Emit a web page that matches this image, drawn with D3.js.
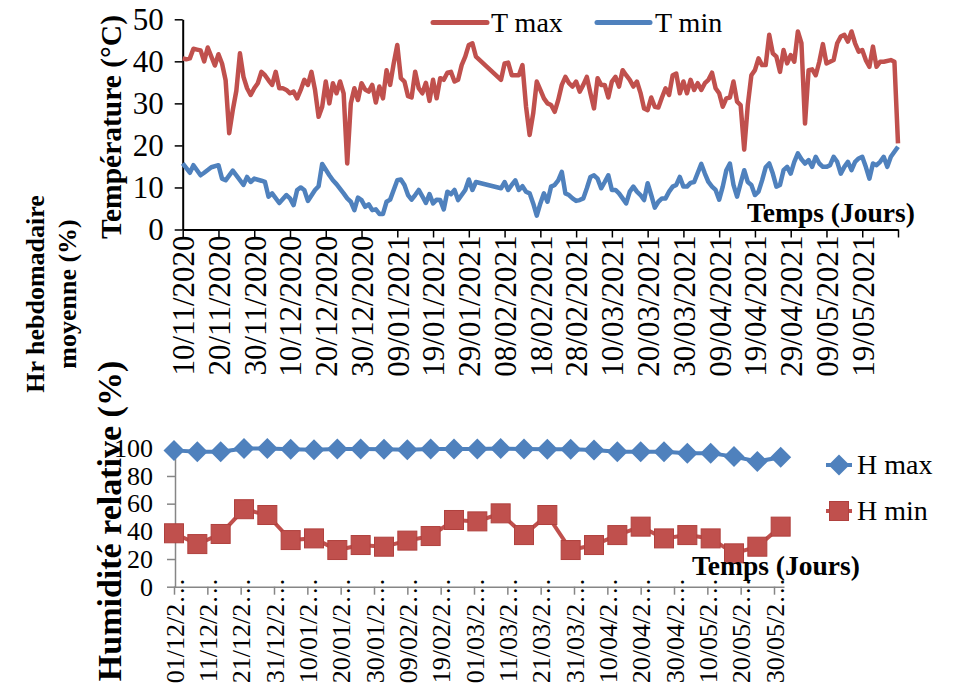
<!DOCTYPE html>
<html>
<head>
<meta charset="utf-8">
<script src="https://cdn.jsdelivr.net/npm/d3@7"></script>
<style>
  body { margin: 0; background: #fff; }
  svg text { font-family: "Liberation Serif", "Times New Roman", serif; }
</style>
</head>
<body>
<div id="chart"></div>
<script>
// top panel: daily temperatures, [days since 10/11/2020, value]
const tempStart = new Date(2020, 10, 10);
const tempEnd = new Date(2021, 4, 29);
const tmax = [[0,40.7],[1,40.5],[2,40.7],[3,43],[4,42.8],[5,42.6],[6,40],[7,43.3],[9,39],[10,41.7],[11,39.5],[12,35.5],[13,22.9],[14,28.4],[15,33],[16,41.9],[17,36.3],[18,33.6],[19,32],[20,33.6],[21,34.8],[22,37.5],[23,36.7],[24,35.5],[25,34.4],[26,37.5],[27,33.6],[28,33.6],[29,33.2],[30,32.4],[31,32.8],[32,31.2],[33,33.2],[34,35.6],[35,34.4],[36,37.5],[37,33.2],[38,26.8],[39,29.2],[40,35.2],[41,30],[42,34.8],[43,32.4],[44,35.2],[45,32.4],[46,15.7],[47,30],[48,33.6],[49,30.8],[50,34.8],[51,33.3],[52,32.8],[53,34.4],[54,30.2],[55,34],[56,31.2],[57,37.9],[58,34.4],[59,39.5],[60,43.9],[61,36],[62,35.2],[63,31.7],[64,31.4],[65,37.5],[66,33.6],[67,32.4],[68,34.9],[69,30.6],[70,35.6],[71,31.2],[72,36],[73,35.6],[74,37.3],[75,37.5],[76,35.2],[77,35.6],[78,39.1],[79,41.1],[80,43.9],[81,44.3],[82,41.1],[89,35.6],[90,39.5],[91,39.7],[92,36.7],[93,36.7],[94,36.7],[95,39.1],[96,29.2],[97,22.5],[98,27.6],[99,35.2],[100,33.2],[101,31.2],[102,30],[103,29.6],[104,28],[105,30.8],[106,34.4],[107,36.3],[108,34.8],[109,34],[110,35.2],[111,32.8],[112,34.4],[113,36.3],[114,32.4],[115,28.8],[116,36],[117,34.4],[118,34.4],[119,31.4],[120,35.2],[121,36.3],[122,34],[123,37.9],[124,36.7],[125,35.6],[126,34],[127,35.2],[128,32.5],[129,28.8],[130,28.4],[131,31.4],[132,29.2],[133,29],[134,31.4],[135,33.6],[136,32],[137,36.7],[138,37.1],[139,32.4],[140,35.2],[141,32.4],[142,35.6],[143,33.2],[144,34.8],[145,33.2],[146,34.8],[147,35.6],[148,37.3],[149,33.6],[150,32.4],[151,29.2],[152,31.2],[153,31.4],[154,35.2],[155,30.4],[156,29.6],[157,19],[158,29.6],[159,36.7],[160,37.9],[161,40.7],[162,39.1],[163,39.1],[164,46.3],[165,41.9],[166,41.1],[167,37.5],[168,42.7],[169,39.5],[170,41.5],[171,39.9],[172,47.1],[173,44.3],[174,25.2],[175,37.9],[176,38.1],[177,36.7],[178,39.9],[179,44.1],[180,39.5],[181,39.9],[182,40.3],[183,44.3],[184,45.9],[185,46.3],[186,44.7],[187,47.1],[188,44.3],[189,42.3],[190,42.7],[191,40.3],[192,38.7],[193,43.5],[194,38.7],[195,39.9],[196,39.9],[198,40.3],[199,39.9],[200,20.5]];
const tmin = [[0,15.7],[2,13.5],[3,15.3],[5,12.9],[6,13.5],[8,14.8],[10,15.3],[11,12.1],[12,11.7],[14,14],[15,12.9],[17,10.6],[18,12.5],[19,11.3],[20,12.1],[22,11.6],[23,11.3],[24,7.8],[25,8.6],[27,6.3],[29,8.2],[30,7.4],[31,5.8],[32,9.4],[33,10],[34,9.4],[35,6.8],[37,9.4],[38,10.3],[39,15.6],[41,12.9],[42,11.7],[43,10.8],[45,8.6],[46,7.4],[47,6.6],[48,4.6],[49,7.6],[50,7],[51,5.4],[52,6],[53,4.6],[54,4.8],[55,3.7],[56,3.7],[57,6.6],[58,7.1],[60,11.7],[61,11.9],[62,10.6],[63,8.2],[64,7.1],[65,8.2],[66,9.4],[67,7.9],[68,6.3],[69,8.4],[70,6.2],[71,7.1],[72,7],[73,4.8],[74,9],[75,8.4],[76,9.4],[77,7],[78,8.2],[79,9.4],[80,11.9],[81,9.4],[82,11.3],[89,9.8],[90,11.3],[91,9.4],[92,10.6],[93,11.7],[94,9.4],[95,10.3],[96,9],[97,8.6],[98,6.2],[99,3.3],[100,6.2],[101,8.6],[102,6.6],[103,10.2],[104,10.6],[105,11.7],[106,13.7],[107,8.6],[108,8.2],[109,7.4],[110,6.8],[111,7],[112,7.4],[113,9.8],[114,12.5],[115,12.9],[116,12.1],[117,9.8],[118,11.3],[119,12.9],[120,9.4],[121,9.4],[122,8.6],[123,7.4],[124,6.2],[125,9],[126,10.2],[127,9],[128,8.2],[129,7],[130,11],[131,8.2],[132,5.2],[133,6.6],[134,7.4],[135,7.4],[136,9],[137,10.2],[138,10.6],[139,12.5],[140,10.2],[141,10.2],[142,11.1],[143,11.3],[145,15.6],[146,13.3],[147,11.3],[148,10.2],[149,9.4],[150,7.1],[151,10.2],[152,14.1],[153,15.7],[154,10.6],[155,7.8],[156,11],[157,14.1],[158,11.3],[159,10.6],[160,8.2],[161,9],[162,11.7],[163,14.8],[164,15.7],[165,13.3],[166,10.2],[167,10.6],[168,14.1],[169,14.9],[170,13.3],[171,16.1],[172,18.1],[173,16.7],[174,15.7],[175,16.5],[176,14.9],[177,17.3],[178,15.7],[179,14.9],[180,14.9],[181,15.3],[182,17.3],[183,16.1],[184,13.3],[185,14.9],[186,16.1],[187,14.1],[188,16.1],[189,16.9],[190,17.3],[191,14.9],[192,12.1],[193,15.7],[194,15.3],[195,16.1],[196,17.3],[197,14.9],[198,17.3],[199,18.5],[200,19.7]];
const tempTicks = [0, 10, 20, 30, 40, 50];

// bottom panel: weekly relative humidity
const humDates = ["2020-12-01","2020-12-08","2020-12-15","2020-12-22","2020-12-29","2021-01-05","2021-01-12","2021-01-19","2021-01-26","2021-02-02","2021-02-09","2021-02-16","2021-02-23","2021-03-02","2021-03-09","2021-03-16","2021-03-23","2021-03-30","2021-04-06","2021-04-13","2021-04-20","2021-04-27","2021-05-04","2021-05-11","2021-05-18","2021-05-25","2021-06-01"];
const hmax = [98.5,97.5,97.5,99.8,99.8,99.3,99,99.5,99.5,99.3,99,99.5,99.5,99.5,99.8,99.5,99.3,99.3,98.8,97.5,97.5,97.5,96.5,96.5,94,90.5,93.5];
const hmin = [38.6,30.8,38.1,56,51.8,33.7,34.9,26.5,30.1,28.9,33.3,36.6,48.2,47.2,53,37.3,51.8,26.5,30.1,37.3,43.4,34.9,37.3,34.9,24.1,28.9,43.4];
const humTicks = [0, 20, 40, 60, 80, 100];

const RED = '#C0504D', BLUE = '#4F81BD';
const svg = d3.select('#chart').append('svg').attr('width', 961).attr('height', 686);

// ---------- top chart ----------
const x1 = d3.scaleTime().domain([tempStart, tempEnd]).range([182.7, 898]);
const y1 = d3.scaleLinear().domain([0, 50]).range([229.5, 19.3]);
const dayDate = d => d3.timeDay.offset(tempStart, d);

const topG = svg.append('g');
const xTicks1 = d3.range(0, 201, 10).map(dayDate);
const fmt1 = d3.timeFormat('%d/%m/%Y');

const xAxis1 = topG.append('g').attr('transform', 'translate(0,229.5)')
  .call(d3.axisBottom(x1).tickValues(xTicks1).tickSize(8).tickSizeOuter(0)
    .tickFormat((d, i) => i < 20 ? fmt1(d) : ''));
xAxis1.select('.domain').attr('stroke', '#000').attr('stroke-width', 2);
xAxis1.selectAll('.tick line').attr('stroke', '#000').attr('stroke-width', 1.5);
xAxis1.selectAll('.tick text')
  .attr('transform', 'rotate(-90)')
  .attr('text-anchor', 'end')
  .attr('x', -6).attr('y', 0).attr('dy', '0.35em')
  .style('font-size', '31px').attr('fill', '#000');

const yAxis1 = topG.append('g').attr('transform', 'translate(182.7,0)')
  .call(d3.axisLeft(y1).tickValues(tempTicks).tickSize(8).tickSizeOuter(0).tickPadding(11));
yAxis1.select('.domain').attr('stroke', '#000').attr('stroke-width', 2);
yAxis1.selectAll('.tick line').attr('stroke', '#000').attr('stroke-width', 1.5);
yAxis1.selectAll('.tick text').style('font-size', '31px').attr('fill', '#000');

const line1 = d3.line().x(d => x1(dayDate(d[0]))).y(d => y1(d[1]));
topG.append('path').datum(tmax).attr('d', line1)
  .attr('fill', 'none').attr('stroke', RED).attr('stroke-width', 4.5).attr('stroke-linejoin', 'round');
topG.append('path').datum(tmin).attr('d', line1)
  .attr('fill', 'none').attr('stroke', BLUE).attr('stroke-width', 4.5).attr('stroke-linejoin', 'round');

// legend
topG.append('line').attr('x1', 433).attr('x2', 487).attr('y1', 22.5).attr('y2', 22.5)
  .attr('stroke', RED).attr('stroke-width', 5).attr('stroke-linecap', 'round');
topG.append('text').attr('x', 491).attr('y', 32).style('font-size', '28px').text('T max');
topG.append('line').attr('x1', 597).attr('x2', 650).attr('y1', 22.5).attr('y2', 22.5)
  .attr('stroke', BLUE).attr('stroke-width', 5).attr('stroke-linecap', 'round');
topG.append('text').attr('x', 655).attr('y', 32).style('font-size', '28px').text('T min');

topG.append('text').attr('x', 747).attr('y', 222)
  .style('font-size', '27.5px').style('font-weight', 'bold').text('Temps (Jours)');
topG.append('text').attr('transform', 'translate(121,127) rotate(-90)')
  .attr('text-anchor', 'middle').style('font-size', '29.5px').style('font-weight', 'bold')
  .text('Température (°C)');

// ---------- bottom chart ----------
const parse = d3.timeParse('%Y-%m-%d');
const humStart = new Date(2020, 11, 1);
const x2 = d3.scaleTime().domain([humStart, new Date(2021, 5, 2)]).range([174, 784]);
const y2 = d3.scaleLinear().domain([0, 100]).range([586.7, 448.3]);
const botG = svg.append('g');
const GREY = '#868686';

const xTicks2 = d3.range(0, 181, 10).map(d => d3.timeDay.offset(humStart, d));
const xAxis2 = botG.append('g').attr('transform', 'translate(0,586.7)')
  .call(d3.axisBottom(x2).tickValues(xTicks2).tickSize(8).tickSizeOuter(0)
    .tickFormat(d => fmt1(d).slice(0, 7) + '\u2026'));
xAxis2.select('.domain').attr('stroke', GREY).attr('stroke-width', 1.5);
xAxis2.selectAll('.tick line').attr('stroke', GREY).attr('stroke-width', 1.5);
xAxis2.selectAll('.tick text')
  .attr('transform', 'rotate(-90)')
  .attr('text-anchor', 'end')
  .attr('x', 9).attr('y', 0).attr('dy', '0.35em')
  .style('font-size', '26px').attr('fill', '#000');

const yAxis2 = botG.append('g').attr('transform', 'translate(175,0)')
  .call(d3.axisLeft(y2).tickValues(humTicks).tickSize(8).tickSizeOuter(0).tickPadding(14));
yAxis2.select('.domain').attr('stroke', GREY).attr('stroke-width', 1.5);
yAxis2.selectAll('.tick line').attr('stroke', GREY).attr('stroke-width', 1.5);
yAxis2.selectAll('.tick text').style('font-size', '26px').attr('fill', '#000');

const hum = humDates.map((d, i) => ({ date: parse(d), hmax: hmax[i], hmin: hmin[i] }));
const diamond = 'M0,-10.5L10.5,0L0,10.5L-10.5,0Z';

botG.append('path').datum(hum)
  .attr('d', d3.line().x(d => x2(d.date)).y(d => y2(d.hmax)))
  .attr('fill', 'none').attr('stroke', BLUE).attr('stroke-width', 4);
botG.append('path').datum(hum)
  .attr('d', d3.line().x(d => x2(d.date)).y(d => y2(d.hmin)))
  .attr('fill', 'none').attr('stroke', RED).attr('stroke-width', 4);

botG.selectAll('.dia').data(hum).join('path').attr('class', 'dia')
  .attr('d', diamond)
  .attr('transform', d => `translate(${x2(d.date)},${y2(d.hmax)})`)
  .attr('fill', BLUE);
botG.selectAll('.sq').data(hum).join('rect').attr('class', 'sq')
  .attr('x', d => x2(d.date) - 9.5).attr('y', d => y2(d.hmin) - 9.5)
  .attr('width', 19).attr('height', 19)
  .attr('fill', RED).attr('stroke', '#B0413E').attr('stroke-width', 1);

// legend
botG.append('line').attr('x1', 826).attr('x2', 852).attr('y1', 465).attr('y2', 465)
  .attr('stroke', BLUE).attr('stroke-width', 4);
botG.append('path').attr('d', diamond).attr('transform', 'translate(839,465)').attr('fill', BLUE);
botG.append('text').attr('x', 857).attr('y', 474).style('font-size', '28px').text('H max');
botG.append('line').attr('x1', 826).attr('x2', 852).attr('y1', 511).attr('y2', 511)
  .attr('stroke', RED).attr('stroke-width', 4);
botG.append('rect').attr('x', 829.5).attr('y', 501.5).attr('width', 19).attr('height', 19)
  .attr('fill', RED).attr('stroke', '#B0413E');
botG.append('text').attr('x', 857).attr('y', 520).style('font-size', '28px').text('H min');

botG.append('text').attr('x', 692).attr('y', 575)
  .style('font-size', '27.5px').style('font-weight', 'bold').text('Temps (Jours)');
botG.append('text').attr('transform', 'translate(121,521) rotate(-90)')
  .attr('text-anchor', 'middle').style('font-size', '34px').style('font-weight', 'bold')
  .text('Humidité relative (%)');

// left outer title (two lines)
const hr = svg.append('text').attr('transform', 'translate(0,294) rotate(-90)')
  .attr('text-anchor', 'middle').style('font-size', '26px').style('font-weight', 'bold');
hr.append('tspan').attr('x', 0).attr('y', 44).text('Hr hebdomadaire');
hr.append('tspan').attr('x', 0).attr('y', 76).text('moyenne (%)');
</script>
</body>
</html>
